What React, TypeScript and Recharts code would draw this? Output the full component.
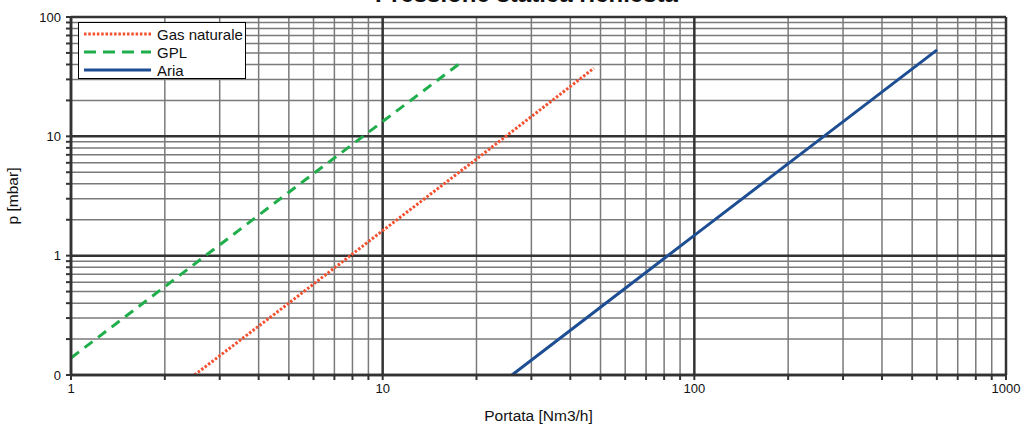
import { LineChart, Line, XAxis, YAxis, ReferenceLine, Label } from 'recharts'

// portata [Nm3/h] vs pressione [mbar]
const gasQ = [2.49, 5, 10, 20, 47.6]
const gasP = [0.1, 0.4, 1.62, 6.45, 37.2]
const gplQ = [1, 2, 5, 10, 17.6]
const gplP = [0.139, 0.55, 3.4, 13.3, 40.5]
const ariaQ = [26, 50, 100, 200, 601]
const ariaP = [0.1, 0.37, 1.48, 5.9, 53]

const xTicks = [1, 2, 3, 4, 5, 6, 7, 8, 9, 10, 20, 30, 40, 50, 60, 70, 80, 90, 100, 200, 300, 400, 500, 600, 700, 800, 900, 1000]
const yTicks = [0.1, 0.2, 0.3, 0.4, 0.5, 0.6, 0.7, 0.8, 0.9, 1, 2, 3, 4, 5, 6, 7, 8, 9, 10, 20, 30, 40, 50, 60, 70, 80, 90, 100]
const xMajor = [1, 10, 100, 1000]
const yMajor = [0.1, 1, 10, 100]
const xLabels = ['1', '10', '100', '1000']
const yLabels = ['0', '1', '10', '100']

const series = [
  { name: 'Gas naturale', q: gasQ, p: gasP, color: '#f4502f', dash: '2.5 1.8', legendDash: '2.5 1.8' },
  { name: 'GPL', q: gplQ, p: gplP, color: '#1fae4b', dash: '10 7', legendDash: '12 7' },
  { name: 'Aria', q: ariaQ, p: ariaP, color: '#1d4e93', dash: undefined, legendDash: undefined },
]

const font = '"Liberation Sans", Arial, sans-serif'

const toRows = (q: number[], p: number[]) => q.map((v, i) => ({ q: v, p: p[i] }))

function LegendBox() {
  return (
    <div style={{ position: 'absolute', left: 78, top: 22, boxSizing: 'border-box', width: 168, height: 57, border: '1px solid #000', background: '#fff', paddingTop: 2, fontFamily: font, fontSize: 15, color: '#111' }}>
      {series.map((s) => (
        <div key={s.name} style={{ display: 'flex', alignItems: 'center', height: 18 }}>
          <svg width={73} height={10} style={{ marginLeft: 5 }}>
            <line x1={0} y1={5} x2={67} y2={5} stroke={s.color} strokeWidth={3} strokeDasharray={s.legendDash} />
          </svg>
          <span>{s.name}</span>
        </div>
      ))}
    </div>
  )
}

export default function App() {
  return (
    <div style={{ position: 'absolute', left: 0, top: 0, width: 1025, height: 428, background: '#fff', overflow: 'hidden', fontFamily: font }}>
      <LineChart width={1025} height={428} margin={{ top: 17, right: 19, left: 0, bottom: 0 }}>
        <XAxis
          dataKey="q"
          type="number"
          scale="log"
          domain={[1, 1000]}
          ticks={xTicks}
          allowDataOverflow
          height={53}
          interval={0}
          tickSize={5}
          tickMargin={4}
          tickFormatter={(v: number) => (xMajor.includes(v) ? xLabels[xMajor.indexOf(v)] : '')}
          tick={{ fill: '#111', fontSize: 13, fontFamily: font }}
          axisLine={{ stroke: '#333', strokeWidth: 2.5 }}
          tickLine={{ stroke: '#333', strokeWidth: 2 }}
        >
          <Label value="Portata [Nm3/h]" position="insideBottom" offset={7} style={{ fill: '#111', fontSize: 15.5, fontFamily: font }} />
        </XAxis>
        <YAxis
          dataKey="p"
          type="number"
          scale="log"
          domain={[0.1, 100]}
          ticks={yTicks}
          allowDataOverflow
          width={71}
          interval={0}
          tickSize={5}
          tickMargin={5}
          tickFormatter={(v: number) => (yMajor.includes(v) ? yLabels[yMajor.indexOf(v)] : '')}
          tick={{ fill: '#111', fontSize: 13, fontFamily: font }}
          axisLine={{ stroke: '#333', strokeWidth: 2.5 }}
          tickLine={{ stroke: '#333', strokeWidth: 2 }}
        >
          <Label value="p [mbar]" angle={-90} position="insideLeft" offset={12} style={{ fill: '#111', fontSize: 15.5, fontFamily: font, textAnchor: 'middle' }} />
        </YAxis>
        {xTicks.filter((v) => !xMajor.includes(v)).map((v) => (
          <ReferenceLine key={'xm' + v} x={v} stroke="#7a7a7a" strokeWidth={1.5} />
        ))}
        {yTicks.filter((v) => !yMajor.includes(v)).map((v) => (
          <ReferenceLine key={'ym' + v} y={v} stroke="#7a7a7a" strokeWidth={1.5} />
        ))}
        {xMajor.map((v) => (
          <ReferenceLine key={'xM' + v} x={v} stroke="#333" strokeWidth={2.5} />
        ))}
        {yMajor.map((v) => (
          <ReferenceLine key={'yM' + v} y={v} stroke="#333" strokeWidth={2.5} />
        ))}
        {series.map((s) => (
          <Line
            key={s.name}
            data={toRows(s.q, s.p)}
            dataKey="p"
            name={s.name}
            stroke={s.color}
            strokeWidth={3}
            strokeDasharray={s.dash}
            dot={false}
            activeDot={false}
            isAnimationActive={false}
          />
        ))}
      </LineChart>
      <div style={{ position: 'absolute', top: -20, left: 0, width: 1053, textAlign: 'center', fontWeight: 'bold', fontSize: 24, color: '#111', whiteSpace: 'nowrap' }}>
        Pressione statica richiesta
      </div>
      <LegendBox />
    </div>
  )
}
